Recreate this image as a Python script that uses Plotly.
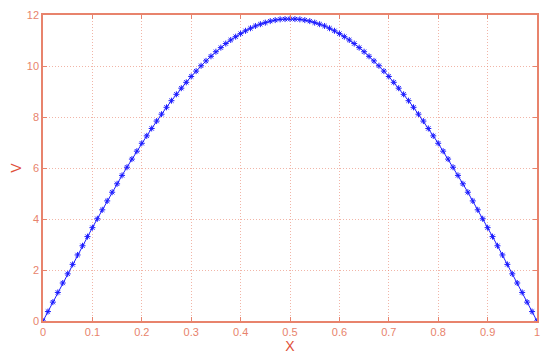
import plotly.graph_objects as go

# x samples (step 0.01) and the curve values
x = [0.00, 0.01, 0.02, 0.03, 0.04, 0.05, 0.06, 0.07, 0.08, 0.09,
     0.10, 0.11, 0.12, 0.13, 0.14, 0.15, 0.16, 0.17, 0.18, 0.19,
     0.20, 0.21, 0.22, 0.23, 0.24, 0.25, 0.26, 0.27, 0.28, 0.29,
     0.30, 0.31, 0.32, 0.33, 0.34, 0.35, 0.36, 0.37, 0.38, 0.39,
     0.40, 0.41, 0.42, 0.43, 0.44, 0.45, 0.46, 0.47, 0.48, 0.49,
     0.50, 0.51, 0.52, 0.53, 0.54, 0.55, 0.56, 0.57, 0.58, 0.59,
     0.60, 0.61, 0.62, 0.63, 0.64, 0.65, 0.66, 0.67, 0.68, 0.69,
     0.70, 0.71, 0.72, 0.73, 0.74, 0.75, 0.76, 0.77, 0.78, 0.79,
     0.80, 0.81, 0.82, 0.83, 0.84, 0.85, 0.86, 0.87, 0.88, 0.89,
     0.90, 0.91, 0.92, 0.93, 0.94, 0.95, 0.96, 0.97, 0.98, 0.99,
     1.00]
v = [0.00, 0.37, 0.74, 1.12, 1.49, 1.85, 2.22, 2.59, 2.95, 3.31,
     3.66, 4.01, 4.36, 4.71, 5.05, 5.38, 5.71, 6.03, 6.35, 6.66,
     6.97, 7.26, 7.55, 7.84, 8.11, 8.38, 8.64, 8.89, 9.13, 9.36,
     9.59, 9.80, 10.01, 10.20, 10.38, 10.56, 10.72, 10.88, 11.02, 11.15,
     11.27, 11.38, 11.48, 11.57, 11.64, 11.70, 11.76, 11.80, 11.83, 11.84,
     11.85, 11.84, 11.83, 11.80, 11.76, 11.70, 11.64, 11.57, 11.48, 11.38,
     11.27, 11.15, 11.02, 10.88, 10.72, 10.56, 10.38, 10.20, 10.01, 9.80,
     9.59, 9.36, 9.13, 8.89, 8.64, 8.38, 8.11, 7.84, 7.55, 7.26,
     6.97, 6.66, 6.35, 6.03, 5.71, 5.38, 5.05, 4.71, 4.36, 4.01,
     3.66, 3.31, 2.95, 2.59, 2.22, 1.85, 1.49, 1.12, 0.74, 0.37,
     0.00]
x_ticks = [0, 0.1, 0.2, 0.3, 0.4, 0.5, 0.6, 0.7, 0.8, 0.9, 1]
x_labels = ["0", "0.1", "0.2", "0.3", "0.4", "0.5", "0.6", "0.7", "0.8", "0.9", "1"]
y_ticks = [0, 2, 4, 6, 8, 10, 12]

axis_col = "#E8836C"
grid_col = "rgba(232,131,108,0.6)"
font_fam = "Liberation Sans, Arial, sans-serif"

fig = go.Figure()
fig.add_trace(go.Scatter(
    x=x, y=v, mode="lines+markers",
    line=dict(color="#1A1AFF", width=1),
    marker=dict(symbol="asterisk-open", size=5, color="#1A1AFF",
                line=dict(color="#1A1AFF", width=1)),
    showlegend=False,
))

axis_common = dict(
    showline=True, linecolor=axis_col, linewidth=1.5, mirror="ticks",
    ticks="inside", ticklen=4, tickcolor=axis_col,
    showgrid=True, gridcolor=grid_col, griddash="1px,2px", gridwidth=1,
    zeroline=False, automargin=False,
    tickfont=dict(family=font_fam, size=11, color=axis_col),
)

fig.update_xaxes(range=[0, 1], tickvals=x_ticks, ticktext=x_labels,
                 title=dict(text="X", font=dict(family=font_fam, size=14, color="#E0503A"),
                            standoff=4),
                 **axis_common)
fig.update_yaxes(range=[0, 12], tickvals=y_ticks,
                 title=dict(text="V", font=dict(family=font_fam, size=14, color="#E0503A"),
                            standoff=6),
                 **axis_common)

# page body adds an 8px offset, so the figure is sized to fit the window
fig.update_layout(
    width=542, height=356,
    margin=dict(l=35, r=13, t=7, b=43),
    paper_bgcolor="white", plot_bgcolor="white",
)

fig.write_html("out.html")
